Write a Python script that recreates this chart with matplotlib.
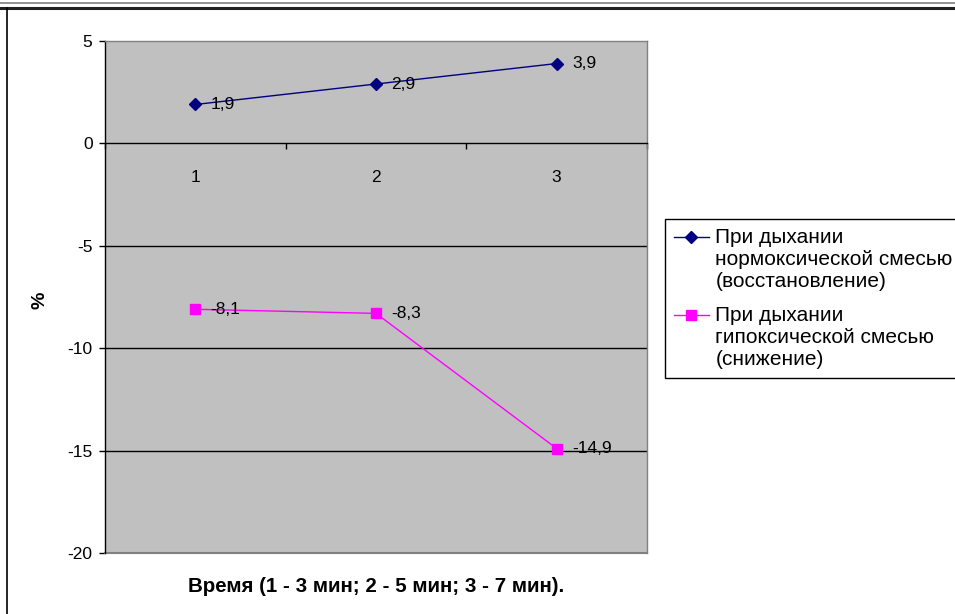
import matplotlib
matplotlib.use("Agg")
import matplotlib.pyplot as plt
from matplotlib.lines import Line2D
from matplotlib.legend_handler import HandlerLine2D

plt.rcParams['font.family'] = ['Liberation Sans', 'DejaVu Sans']

categories = ["1", "2", "3"]
normoxic = [1.9, 2.9, 3.9]
hypoxic = [-8.1, -8.3, -14.9]
normoxic_labels = ["1,9", "2,9", "3,9"]
hypoxic_labels = ["-8,1", "-8,3", "-14,9"]
series_names = ["При дыхании\nнормоксической смесью\n(восстановление)",
                "При дыхании\nгипоксической смесью\n(снижение)"]
yticks = [5, 0, -5, -10, -15, -20]
xlabel = "Время (1 - 3 мин; 2 - 5 мин; 3 - 7 мин)."
ylabel = "%"

W, H = 955, 614
fig = plt.figure(figsize=(W / 100, H / 100), dpi=100)
fig.patch.set_facecolor("white")

ax = fig.add_axes([105 / W, 1 - 553 / H, (647 - 105) / W, (553 - 41) / H])
ax.set_facecolor("#C0C0C0")
x = list(range(1, len(categories) + 1))

ax.set_xlim(0.5, len(categories) + 0.5)
ax.set_ylim(-20, 5)

for y in yticks:
    if y not in (5, -20, 0):
        ax.axhline(y, color="black", lw=1.0, zorder=1)

ax.plot(x, normoxic, color="#000080", lw=1.0, marker="D", markersize=6,
        markerfacecolor="#000080", markeredgecolor="#000080", zorder=3,
        label=series_names[0])
ax.plot(x, hypoxic, color="#FF00FF", lw=1.0, marker="s", markersize=6.5,
        markerfacecolor="#FF00FF", markeredgecolor="#FF00FF", zorder=3,
        label=series_names[1])

for xi, v, t in zip(x, normoxic, normoxic_labels):
    ax.annotate(t, (xi, v), xytext=(11, 0), textcoords="offset points",
                ha="left", va="center", fontsize=12.5, zorder=4)
for xi, v, t in zip(x, hypoxic, hypoxic_labels):
    ax.annotate(t, (xi, v), xytext=(11, 0), textcoords="offset points",
                ha="left", va="center", fontsize=12.5, zorder=4)

# spines
for s in ("top", "right"):
    ax.spines[s].set_color("#808080")
    ax.spines[s].set_linewidth(1.0)
ax.spines["left"].set_color("black")
ax.spines["left"].set_linewidth(1.0)
ax.spines["bottom"].set_position(("data", 0))
ax.spines["bottom"].set_color("black")
ax.spines["bottom"].set_linewidth(1.0)
ax.plot([0, 1], [0, 0], transform=ax.transAxes, color="#808080", lw=1.5,
        clip_on=False, zorder=2)

ax.set_yticks(yticks)
ax.set_yticklabels([str(v) for v in yticks])
ax.tick_params(axis="y", direction="out", length=4, width=1, pad=5,
               labelsize=12.5, colors="black")

ax.set_xticks(x)
ax.set_xticklabels(categories)
ax.set_xticks([i + 0.5 for i in range(0, len(categories) + 1)], minor=True)
ax.tick_params(axis="x", which="major", length=0, pad=19, labelsize=12.5)
ax.tick_params(axis="x", which="minor", direction="out", length=4, width=1)

fig.text(376 / W, 1 - 586 / H, xlabel, ha="center", va="center",
         fontsize=14.8, fontweight="bold")
fig.text(40 / W, 1 - 300 / H, ylabel, ha="center", va="center",
         fontsize=14, fontweight="bold", rotation=90)


class TopAlignedHandler(HandlerLine2D):
    """Put the legend handle level with the first line of a multi-line label."""
    def __init__(self, shift, **kw):
        super().__init__(**kw)
        self.shift = shift

    def create_artists(self, legend, orig_handle, xdescent, ydescent,
                       width, height, fontsize, trans):
        arts = super().create_artists(legend, orig_handle, xdescent, ydescent,
                                      width, height, fontsize, trans)
        for a in arts:
            xd, yd = a.get_data()
            a.set_data(xd, [v + self.shift for v in yd])
        return arts


handles, labels = ax.get_legend_handles_labels()
leg = ax.legend(handles, labels, loc="upper left",
                bbox_to_anchor=(665 / W, 1 - 219 / H),
                bbox_transform=fig.transFigure, fontsize=15, frameon=True,
                fancybox=False, edgecolor="black", framealpha=1,
                borderpad=0.42, handlelength=1.7, handletextpad=0.3,
                labelspacing=0.75, borderaxespad=0,
                handler_map={h: TopAlignedHandler(shift=16.5) for h in handles})
leg.get_frame().set_linewidth(1.0)
for t in leg.get_texts():
    t.set_linespacing(1.2)

# outer frame decorations
fig.add_artist(Line2D([0, 1], [1 - 2.5 / H, 1 - 2.5 / H], color="#808080",
                      lw=1.2, transform=fig.transFigure))
fig.add_artist(Line2D([0, 1], [1 - 8 / H, 1 - 8 / H], color="#202020",
                      lw=2.2, transform=fig.transFigure))
fig.add_artist(Line2D([6.5 / W, 6.5 / W], [0, 1 - 8 / H], color="black",
                      lw=1.2, transform=fig.transFigure))

fig.savefig("out.png", dpi=100)
